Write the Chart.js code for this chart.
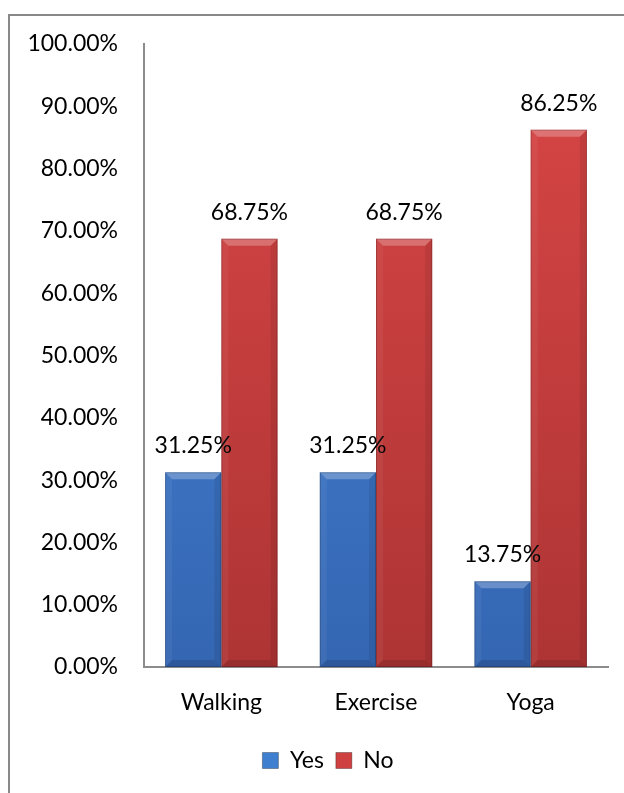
<!DOCTYPE html>
<html>
<head>
<meta charset="utf-8">
<script src="https://cdn.jsdelivr.net/npm/chart.js@4/dist/chart.umd.min.js"></script>
<style>
  html, body { margin: 0; padding: 0; background: #fff; }
  #wrap { position: relative; width: 624px; height: 793px; overflow: hidden; }
  #frame { position: absolute; left: 8px; top: 14px; width: 700px; height: 900px;
           border-left: 2px solid #898989; border-top: 2px solid #898989; }
  #chart { position: absolute; left: 0; top: 0; }
</style>
</head>
<body>
<div id="wrap">
  <div id="frame"></div>
  <canvas id="chart" width="624" height="793"></canvas>
</div>
<script>
var categories = ["Walking", "Exercise", "Yoga"];
var yesValues = [0.3125, 0.3125, 0.1375];
var noValues = [0.6875, 0.6875, 0.8625];
var seriesNames = ["Yes", "No"];

var FONT = "Lato, 'Open Sans', sans-serif";

function pct(v){
    return (v * 100).toFixed(2) + "%";
}

function barGradient(top, bottom){
    return function(ctx){
        var area = ctx.chart.chartArea;
        if(!area) return top;
        var g = ctx.chart.ctx.createLinearGradient(0, area.top, 0, area.bottom);
        g.addColorStop(0, top);
        g.addColorStop(1, bottom);
        return g;
    };
}

// bevel look + value labels drawn on top of the bar elements
var bevelPlugin = {
    id: 'bevel',
    afterLayout: function(chart){
        // legend is centred on the whole frame, not the canvas
        if(chart.legend) chart.legend.left = 48;
    },
    afterDatasetsDraw: function(chart){
        var c = chart.ctx;
        chart.data.datasets.forEach(function(ds, i){
            var meta = chart.getDatasetMeta(i);
            meta.data.forEach(function(bar, j){
                var p = bar.getProps(['x', 'y', 'width', 'base'], true);
                var l = p.x - p.width / 2, r = p.x + p.width / 2, t = p.y, b = p.base;
                var d = 7;
                c.save();
                // top bevel
                c.fillStyle = 'rgba(255,255,255,0.25)';
                c.beginPath();
                c.moveTo(l, t); c.lineTo(r, t); c.lineTo(r - d, t + d); c.lineTo(l + d, t + d);
                c.closePath(); c.fill();
                // left bevel
                c.fillStyle = 'rgba(255,255,255,0.05)';
                c.beginPath();
                c.moveTo(l, t); c.lineTo(l + d, t + d); c.lineTo(l + d, b - d); c.lineTo(l, b);
                c.closePath(); c.fill();
                // right bevel
                c.fillStyle = 'rgba(0,0,0,0.08)';
                c.beginPath();
                c.moveTo(r, t); c.lineTo(r - d, t + d); c.lineTo(r - d, b - d); c.lineTo(r, b);
                c.closePath(); c.fill();
                // bottom bevel
                c.fillStyle = 'rgba(0,0,0,0.12)';
                c.beginPath();
                c.moveTo(l, b); c.lineTo(l + d, b - d); c.lineTo(r - d, b - d); c.lineTo(r, b);
                c.closePath(); c.fill();
                // outline
                c.strokeStyle = 'rgba(0,0,0,0.2)';
                c.lineWidth = 1;
                c.strokeRect(l + 0.5, t + 0.5, p.width - 1, b - t - 1);
                // value label
                c.fillStyle = '#000';
                c.font = '23px ' + FONT;
                c.textAlign = 'center';
                c.textBaseline = 'alphabetic';
                c.fillText(pct(ds.data[j]), p.x, t - 19);
                c.restore();
            });
        });
    }
};

new Chart(document.getElementById("chart"), {
    type: 'bar',
    data: {
        labels: categories,
        datasets: [
            {
                label: seriesNames[0],
                data: yesValues,
                backgroundColor: barGradient('#4788dc', '#3466b2'),
                borderWidth: 0
            },
            {
                label: seriesNames[1],
                data: noValues,
                backgroundColor: barGradient('#d94646', '#ae3434'),
                borderWidth: 0
            }
        ]
    },
    plugins: [bevelPlugin],
    options: {
        responsive: false,
        animation: false,
        events: [],
        layout: {
            padding: { top: 44, left: 0, right: 16, bottom: 11 }
        },
        datasets: {
            bar: { categoryPercentage: 0.727, barPercentage: 1.0 }
        },
        scales: {
            x: {
                grid: { display: false, drawTicks: false },
                border: { display: true, color: '#8c8c8c', width: 2 },
                ticks: { color: '#000', font: { family: FONT, size: 23 }, padding: 22 },
                afterFit: function(s){ s.height = 70; }
            },
            y: {
                min: 0,
                max: 1,
                grid: { display: false, drawTicks: false },
                border: { display: true, color: '#8c8c8c', width: 2 },
                ticks: {
                    stepSize: 0.1,
                    color: '#000',
                    font: { family: FONT, size: 23 },
                    padding: 26,
                    callback: function(v){ return pct(v); }
                },
                afterFit: function(s){ s.width = 144; }
            }
        },
        plugins: {
            tooltip: { enabled: false },
            legend: {
                position: 'bottom',
                labels: {
                    color: '#000',
                    font: { family: FONT, size: 23 },
                    boxWidth: 16,
                    boxHeight: 16,
                    padding: 12,
                    generateLabels: function(chart){
                        var cols = ['#3f7fd0', '#cf4141'];
                        return chart.data.datasets.map(function(ds, i){
                            return { text: ds.label, fillStyle: cols[i], strokeStyle: 'rgba(0,0,0,0.3)',
                                     lineWidth: 1, datasetIndex: i, fontColor: '#000' };
                        });
                    }
                }
            }
        }
    }
});
</script>
</body>
</html>
